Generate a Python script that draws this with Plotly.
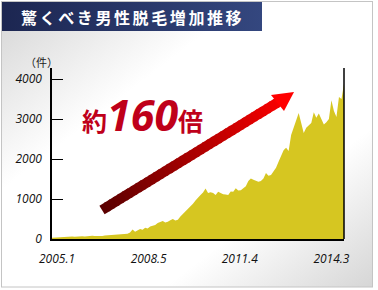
import base64
import math
import plotly.graph_objects as go

# ---- data (monthly, 2005.1 .. 2014.9) ----
values = [30, 35, 40, 45, 40, 50, 55, 50, 60, 55, 65, 60, 70, 65, 75, 70, 80, 75, 70, 80,
          75, 90, 95, 100, 105, 110, 115, 120, 120, 125, 130, 160, 240, 180, 210, 250, 230, 280, 260, 310,
          330, 350, 400, 420, 450, 410, 430, 470, 500, 460, 480, 560, 620, 700, 760, 820, 880, 960, 1040, 1100,
          1160, 1260, 1150, 1170, 1150, 1100, 1180, 1140, 1120, 1110, 1100, 1190, 1180, 1270, 1210, 1220, 1270, 1320, 1450, 1510,
          1480, 1460, 1430, 1450, 1510, 1650, 1580, 1600, 1700, 1780, 1930, 2070, 2220, 2280, 2200, 2600, 2800, 2950, 3150, 2900,
          2650, 2780, 2850, 2900, 3170, 3030, 3140, 3000, 2860, 2920, 3000, 3470, 3200, 3050, 3550, 3500, 3880]
months = [f"{2005 + i // 12}.{i % 12 + 1}" for i in range(len(values))]
x_idx = list(range(len(values)))
tick_labels = ["2005.1", "2008.5", "2011.4", "2014.3"]
tick_pos = [2, 38.4, 74.6, 111]
y_ticks = [0, 1000, 2000, 3000, 4000]
title_text = "驚くべき男性脱毛増加推移"
unit_text = "（件）"

W, H = 378, 290
L, R, T, B = 52, 34, 68, 51
PW, PH = W - L - R, H - T - B


def px2paper(px, py):
    return (px - L) / PW, (H - B - py) / PH


fig = go.Figure()
fig.add_trace(go.Scatter(
    x=x_idx, y=values, mode="lines", line=dict(width=0, color="#d6c621"),
    fill="tozeroy", fillcolor="#d6c621", hoverinfo="skip", customdata=months,
))

# background card + banner as SVG image
svg = f'''<svg xmlns="http://www.w3.org/2000/svg" width="{W}" height="{H}" viewBox="0 0 {W} {H}">
<defs>
<linearGradient id="g" x1="0" y1="0" x2="1" y2="1">
<stop offset="0" stop-color="#d4d4d4"/><stop offset="0.33" stop-color="#ffffff"/>
<stop offset="0.72" stop-color="#ffffff"/><stop offset="1" stop-color="#d6d6d6"/>
</linearGradient>
<linearGradient id="b" x1="0" y1="0" x2="1" y2="0">
<stop offset="0" stop-color="#1c2651"/><stop offset="1" stop-color="#34477f"/>
</linearGradient>
</defs>
<rect x="0" y="0" width="{W}" height="{H}" fill="#ffffff"/>
<rect x="1.5" y="1.5" width="371" height="285.5" fill="url(#g)" stroke="#c4c4c4" stroke-width="1"/>
<rect x="2" y="2" width="260" height="29" fill="url(#b)"/>
</svg>'''
src = "data:image/svg+xml;base64," + base64.b64encode(svg.encode()).decode()
fig.add_layout_image(dict(
    source=src, xref="paper", yref="paper", x=-L / PW, y=1 + T / PH,
    sizex=W / PW, sizey=H / PH, xanchor="left", yanchor="top",
    sizing="stretch", layer="below",
))

shapes = []
# right axis line
shapes.append(dict(type="line", xref="paper", yref="paper", x0=1, x1=1, y0=0, y1=1,
                   line=dict(color="black", width=1.5)))

# arrow shaft with gradient (filled quads)
sx, sy = 102, 210
ex, ey = 280, 101
half = 5.0
n = 40
dx, dy = ex - sx, ey - sy
ln = math.hypot(dx, dy)
nx, ny = -dy / ln * half, dx / ln * half


def lerp(a, b, t):
    return a + (b - a) * t


c0 = (0x5a, 0x00, 0x00)
c1 = (0xf8, 0x00, 0x00)
for i in range(n):
    t0 = i / n
    t1 = min(1.0, (i + 1.4) / n)
    ax, ay = lerp(sx, ex, t0), lerp(sy, ey, t0)
    bx_, by_ = lerp(sx, ex, t1), lerp(sy, ey, t1)
    pts = [(ax + nx, ay + ny), (bx_ + nx, by_ + ny), (bx_ - nx, by_ - ny), (ax - nx, ay - ny)]
    pp = [px2paper(*p) for p in pts]
    path = "M %f %f L %f %f L %f %f L %f %f Z" % (pp[0] + pp[1] + pp[2] + pp[3])
    tm = (i + 0.5) / n
    col = "rgb(%d,%d,%d)" % tuple(int(lerp(c0[k], c1[k], tm)) for k in range(3))
    shapes.append(dict(type="path", xref="paper", yref="paper", path=path,
                       fillcolor=col, line=dict(width=0)))
# arrow head
hp = [px2paper(294, 92), px2paper(271, 95), px2paper(284, 111)]
path = "M %f %f L %f %f L %f %f Z" % (hp[0][0], hp[0][1], hp[1][0], hp[1][1], hp[2][0], hp[2][1])
shapes.append(dict(type="path", xref="paper", yref="paper", path=path,
                   fillcolor="#ff0000", line=dict(width=0)))

annotations = []
tx, ty = px2paper(19, 17)
annotations.append(dict(
    x=tx, y=ty, xref="paper", yref="paper", xanchor="left", yanchor="middle", showarrow=False,
    text=f"<b><span style='letter-spacing:2.6px'>{title_text}</span></b>",
    font=dict(family="Noto Sans CJK JP", size=16, color="white"),
))
ux, uy = px2paper(23, 62)
annotations.append(dict(
    x=ux, y=uy, xref="paper", yref="paper", xanchor="left", yanchor="middle", showarrow=False,
    text=unit_text, font=dict(family="Noto Sans CJK JP", size=11, color="#222"),
))
bx, by = px2paper(80, 114)
annotations.append(dict(
    x=bx, y=by, xref="paper", yref="paper", xanchor="left", yanchor="middle", showarrow=False,
    text="<span style='font-size:25px;font-family:Noto Sans CJK JP;font-weight:bold'>約</span>"
         "<b><i>160</i></b>"
         "<span style='font-size:25px;font-family:Noto Sans CJK JP;font-weight:bold'>倍</span>",
    font=dict(family="Open Sans", size=43, color="#bf001a"),
))

fig.update_layout(
    width=W, height=H, margin=dict(l=L, r=R, t=T, b=B),
    paper_bgcolor="white", plot_bgcolor="rgba(0,0,0,0)",
    showlegend=False, shapes=shapes, annotations=annotations,
    xaxis=dict(range=[0, len(values) - 1], tickvals=tick_pos, ticktext=tick_labels,
               showgrid=False, zeroline=False, showline=True, linecolor="black", linewidth=1.5,
               ticks="", ticklabelstandoff=8,
               tickfont=dict(family="Open Sans", size=12, color="#111", style="italic")),
    yaxis=dict(range=[0, 4275], tickvals=y_ticks, showgrid=False, zeroline=False,
               showline=True, linecolor="black", linewidth=1.5,
               ticks="inside", ticklen=11, tickcolor="black", tickwidth=1.2,
               ticklabelstandoff=6,
               tickfont=dict(family="Open Sans", size=12, color="#111", style="italic")),
)
fig.write_html("out.html")
